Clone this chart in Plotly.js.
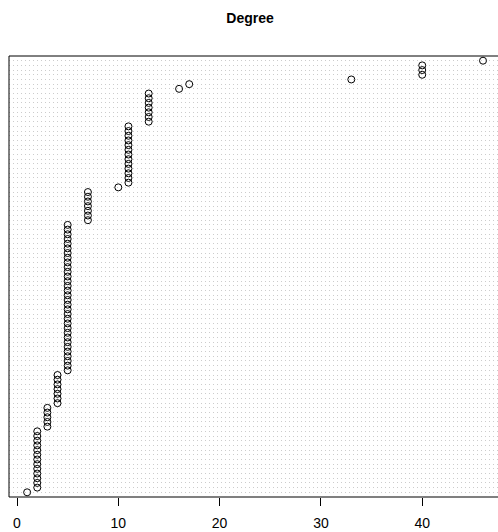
<!DOCTYPE html>
<html>
<head>
<meta charset="utf-8">
<script src="https://cdn.plot.ly/plotly-3.0.1.min.js"></script>
<style>html,body{margin:0;padding:0;background:#fff;}#chart{width:498px;height:532px;}</style>
</head>
<body>
<div id="chart"></div>
<script>
// Sorted degree values (bottom row first)
const degreeValues = [
  1,
  2, 2, 2, 2, 2, 2, 2, 2, 2, 2, 2, 2, 2,
  3, 3, 3, 3, 3,
  4, 4, 4, 4, 4, 4, 4,
  5, 5, 5, 5, 5, 5, 5, 5, 5, 5, 5, 5, 5, 5, 5, 5,
  5, 5, 5, 5, 5, 5, 5, 5, 5, 5, 5, 5, 5, 5, 5, 5,
  7, 7, 7, 7, 7, 7, 7,
  10,
  11, 11, 11, 11, 11, 11, 11, 11, 11, 11, 11, 11, 11,
  13, 13, 13, 13, 13, 13, 13,
  16, 17, 33,
  40, 40, 40,
  46
];
const xTicks = [0, 10, 20, 30, 40];
const chartTitle = "Degree";

const rowPos = degreeValues.map((v, i) => i + 1);
const n = degreeValues.length;

const trace = {
  type: "scatter",
  mode: "markers",
  x: degreeValues,
  y: rowPos,
  marker: {symbol: "circle-open", size: 7, color: "#000", line: {color: "#000", width: 1}},
  hoverinfo: "x"
};

const layout = {
  width: 498, height: 532,
  margin: {l: 9, r: 0, t: 56, b: 35},
  paper_bgcolor: "#fff", plot_bgcolor: "#fff",
  showlegend: false,
  title: {
    text: "<b>" + chartTitle + "</b>",
    font: {family: "Liberation Sans, Arial, sans-serif", size: 14, color: "#000"},
    x: 250 / 498, xref: "container", xanchor: "center",
    y: 1 - 18 / 532, yref: "container", yanchor: "middle"
  },
  xaxis: {
    range: [-0.79, 47.48],
    tickvals: xTicks, ticktext: xTicks.map(String),
    ticks: "outside", ticklen: 8, tickwidth: 1, tickcolor: "#000",
    tickfont: {family: "Liberation Sans, Arial, sans-serif", size: 14, color: "#000"},
    ticklabelstandoff: 5,
    showgrid: false, zeroline: false, showline: false
  },
  yaxis: {
    range: [0, n + 1],
    tick0: 1, dtick: 1,
    showticklabels: false, ticks: "",
    showgrid: true, gridcolor: "#cccccc", gridwidth: 1, griddash: "1px,3px",
    zeroline: false, showline: false
  },
  shapes: [
    {type: "line", xref: "paper", yref: "paper", x0: 0, x1: 0, y0: 0, y1: 1, line: {color: "#000", width: 1}},
    {type: "line", xref: "paper", yref: "paper", x0: 0, x1: 1.02, y0: 1, y1: 1, line: {color: "#000", width: 1}},
    {type: "line", xref: "paper", yref: "paper", x0: 0, x1: 1.02, y0: 0, y1: 0, line: {color: "#000", width: 1}}
  ]
};

Plotly.newPlot("chart", [trace], layout, {displayModeBar: false, staticPlot: true});
</script>
</body>
</html>
